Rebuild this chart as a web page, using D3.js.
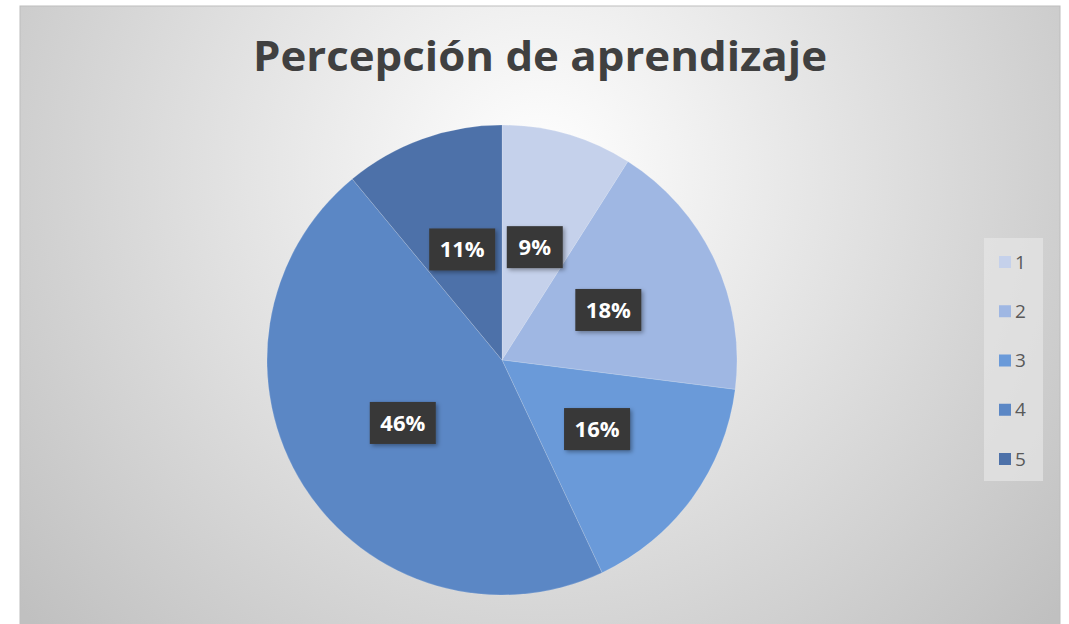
<!DOCTYPE html>
<html>
<head>
<meta charset="utf-8">
<script src="https://cdnjs.cloudflare.com/ajax/libs/d3/7.8.5/d3.min.js"></script>
<style>
  html, body { margin: 0; padding: 0; background: #fff; }
  svg { display: block; }
</style>
</head>
<body>
<svg id="chart"></svg>
<script>
(function () {
    // data
    const categories = ['1', '2', '3', '4', '5'];
    const values = [9, 18, 16, 46, 11];
    const colors = ['#c5d1eb', '#9fb7e3', '#6a9ad9', '#5b87c5', '#4d71a9'];
    const title = 'Percepción de aprendizaje';

    const width = 1069;
    const height = 624;

    const svg = d3.select('#chart')
        .attr('width', width)
        .attr('height', height);

    const defs = svg.append('defs');

    const bg = defs.append('radialGradient')
        .attr('id', 'bg')
        .attr('gradientUnits', 'userSpaceOnUse')
        .attr('cx', 540).attr('cy', 170).attr('r', 680);
    bg.append('stop').attr('offset', '0%').attr('stop-color', '#ffffff');
    bg.append('stop').attr('offset', '35%').attr('stop-color', '#e9e9e9');
    bg.append('stop').attr('offset', '100%').attr('stop-color', '#c0c0c0');

    const shadow = defs.append('filter')
        .attr('id', 'shadow')
        .attr('x', '-20%').attr('y', '-20%')
        .attr('width', '150%').attr('height', '150%');
    shadow.append('feDropShadow')
        .attr('dx', 2).attr('dy', 2)
        .attr('stdDeviation', 2)
        .attr('flood-color', '#000')
        .attr('flood-opacity', 0.35);

    // chart area
    svg.append('rect')
        .attr('x', 20).attr('y', 6)
        .attr('width', 1040).attr('height', 630)
        .attr('fill', 'url(#bg)')
        .attr('stroke', '#bdbdbd')
        .attr('stroke-width', 1);

    svg.append('text')
        .attr('x', 540).attr('y', 71)
        .attr('text-anchor', 'middle')
        .attr('font-family', '"Open Sans", sans-serif')
        .attr('font-weight', 700)
        .attr('font-size', 41)
        .attr('fill', '#404040')
        .attr('textLength', 574)
        .attr('lengthAdjust', 'spacingAndGlyphs')
        .text(title);

    // pie
    const cx = 502, cy = 360, radius = 235;

    const pie = d3.pie().sort(null).value(d => d.value);
    const arc = d3.arc().innerRadius(0).outerRadius(radius);

    const data = categories.map((c, i) => ({ cat: c, value: values[i], color: colors[i] }));
    const arcs = pie(data);
    const total = d3.sum(values);

    const g = svg.append('g').attr('transform', `translate(${cx},${cy})`);

    g.selectAll('path.slice')
        .data(arcs)
        .enter()
        .append('path')
        .attr('class', 'slice')
        .attr('d', arc)
        .attr('fill', d => d.data.color)
        .attr('stroke', 'rgba(255,255,255,0.15)')
        .attr('stroke-width', 1);

    const labels = g.selectAll('g.label')
        .data(arcs)
        .enter()
        .append('g')
        .attr('class', 'label')
        .attr('transform', d => `translate(${arc.centroid(d)})`);

    labels.append('rect')
        .attr('x', d => d.data.value >= 10 ? -33 : -28)
        .attr('y', -21)
        .attr('width', d => d.data.value >= 10 ? 66 : 56)
        .attr('height', 42)
        .attr('fill', '#383838')
        .attr('filter', 'url(#shadow)');

    labels.append('text')
        .attr('text-anchor', 'middle')
        .attr('dy', '0.36em')
        .attr('font-family', '"Open Sans", sans-serif')
        .attr('font-weight', 700)
        .attr('font-size', 22)
        .attr('fill', '#ffffff')
        .text(d => Math.round(d.data.value / total * 100) + '%');

    // legend
    const legend = svg.append('g');
    legend.append('rect')
        .attr('x', 984).attr('y', 238)
        .attr('width', 59).attr('height', 243)
        .attr('fill', '#e6e6e6')
        .attr('opacity', 0.7);

    const ly = d3.scalePoint()
        .domain(categories)
        .range([262, 459]);

    const items = legend.selectAll('g.item')
        .data(data)
        .enter()
        .append('g')
        .attr('class', 'item')
        .attr('transform', d => `translate(999,${ly(d.cat)})`);

    items.append('rect')
        .attr('x', 0).attr('y', -6)
        .attr('width', 12).attr('height', 12)
        .attr('fill', d => d.color);

    items.append('text')
        .attr('x', 16)
        .attr('dy', '0.35em')
        .attr('font-family', '"Open Sans", sans-serif')
        .attr('font-size', 19)
        .attr('fill', '#595959')
        .text(d => d.cat);
})();
</script>
</body>
</html>
